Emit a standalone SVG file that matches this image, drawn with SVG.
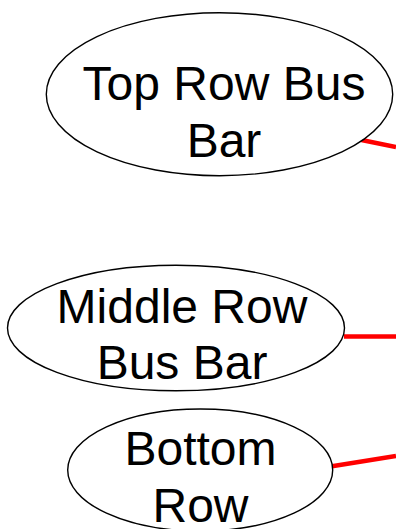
<svg xmlns="http://www.w3.org/2000/svg" width="396" height="529" viewBox="0 0 396 529">
<style>
.node ellipse{fill:#fff;stroke:#000;stroke-width:1.4}
.node text{font-family:"Liberation Sans",Arial,sans-serif;font-size:48px;fill:#000;text-anchor:middle}
.edge{stroke:#f00;stroke-width:4.5;fill:none}
</style>
<rect width="396" height="529" fill="#fff"/>
<g id="connectors">
<line class="edge" x1="361.5" y1="140" x2="396" y2="147"/>
<line class="edge" x1="344" y1="336.5" x2="396" y2="336.5"/>
<line class="edge" x1="332" y1="466.3" x2="396" y2="456"/>
</g>
<g id="top" class="node">
<ellipse cx="219.5" cy="94.2" rx="173.2" ry="81.5"/>
<text x="224" y="100">Top Row Bus</text>
<text x="224" y="156.7">Bar</text>
</g>
<g id="middle" class="node">
<ellipse cx="176" cy="328" rx="168.5" ry="62.8"/>
<text x="182" y="322.7">Middle Row</text>
<text x="182" y="379.3">Bus Bar</text>
</g>
<g id="bottom" class="node">
<ellipse cx="200.2" cy="470" rx="132.5" ry="61"/>
<text x="200.5" y="465">Bottom</text>
<text x="200.5" y="521.7">Row</text>
</g>
</svg>
